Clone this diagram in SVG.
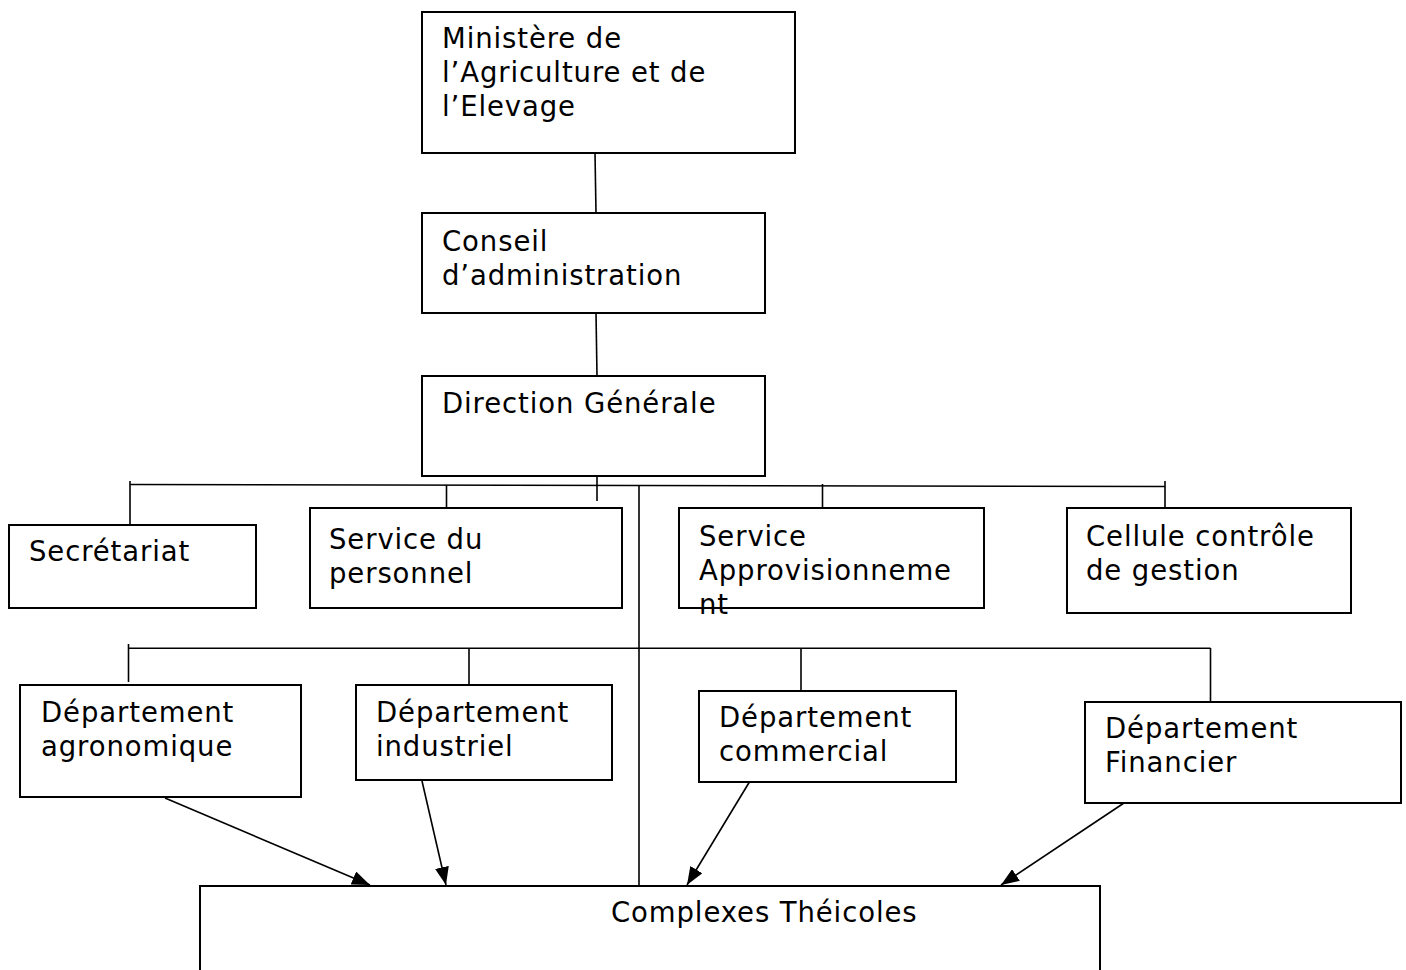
<svg xmlns="http://www.w3.org/2000/svg" width="1406" height="970" viewBox="0 0 1406 970">
  <style>
    .box { fill: #ffffff; stroke: #000000; stroke-width: 2; }
    .lbl { font-family: "DejaVu Sans", "Verdana", sans-serif; font-size: 27.5px; letter-spacing: 0.9px; fill: #000000; }
    .link { fill: none; stroke: #000000; stroke-width: 1.6; }
    .arrow { fill: none; stroke: #000000; stroke-width: 1.6; marker-end: url(#head); }
  </style>
  <defs>
    <marker id="head" viewBox="0 0 18 14" refX="18" refY="7" markerWidth="18" markerHeight="14" markerUnits="userSpaceOnUse" orient="auto">
      <path d="M0,0 L18,7 L0,14 Z" fill="#000000"/>
    </marker>
  </defs>
  <rect width="1406" height="970" fill="#ffffff"/>

  <!-- connectors -->
  <g id="connectors">
    <line class="link" x1="595" y1="153" x2="596" y2="213"/>
    <line class="link" x1="596" y1="313" x2="597" y2="376"/>
    <line class="link" x1="597" y1="476" x2="597" y2="501"/>
    <!-- upper bus: services -->
    <line class="link" x1="130" y1="484.5" x2="1165" y2="486.5"/>
    <line class="link" x1="130" y1="481" x2="130" y2="525"/>
    <line class="link" x1="446.5" y1="485" x2="446.5" y2="508"/>
    <line class="link" x1="822.5" y1="484" x2="822.5" y2="508"/>
    <line class="link" x1="1165" y1="481" x2="1165" y2="508"/>
    <!-- trunk -->
    <line class="link" x1="639" y1="485" x2="639" y2="886"/>
    <!-- lower bus: departments -->
    <line class="link" x1="128.5" y1="648.3" x2="1210.5" y2="648.3"/>
    <line class="link" x1="128.5" y1="644" x2="128.5" y2="682"/>
    <line class="link" x1="469" y1="648" x2="469" y2="685"/>
    <line class="link" x1="801" y1="648" x2="801" y2="694"/>
    <line class="link" x1="1210.5" y1="648" x2="1210.5" y2="702"/>
    <!-- departments to complexes -->
    <line class="arrow" x1="165" y1="798" x2="370" y2="885"/>
    <line class="arrow" x1="422" y1="781" x2="446" y2="885"/>
    <line class="arrow" x1="750" y1="781" x2="687" y2="885"/>
    <line class="arrow" x1="1124" y1="803" x2="1001" y2="885"/>
  </g>

  <g id="ministere">
    <rect class="box" x="422" y="12" width="373" height="141"/>
    <text class="lbl" x="442" y="48">Ministère de</text>
    <text class="lbl" x="442" y="82">l’Agriculture et de</text>
    <text class="lbl" x="442" y="116">l’Elevage</text>
  </g>

  <g id="conseil">
    <rect class="box" x="422" y="213" width="343" height="100"/>
    <text class="lbl" x="442" y="251">Conseil</text>
    <text class="lbl" x="442" y="285">d’administration</text>
  </g>

  <g id="direction">
    <rect class="box" x="422" y="376" width="343" height="100"/>
    <text class="lbl" x="442" y="413">Direction Générale</text>
  </g>

  <g id="secretariat">
    <rect class="box" x="9" y="525" width="247" height="83"/>
    <text class="lbl" x="29" y="561">Secrétariat</text>
  </g>

  <g id="service-personnel">
    <rect class="box" x="310" y="508" width="312" height="100"/>
    <text class="lbl" x="329" y="549">Service du</text>
    <text class="lbl" x="329" y="583">personnel</text>
  </g>

  <g id="service-approvisionnement">
    <rect class="box" x="679" y="508" width="305" height="100"/>
    <text class="lbl" x="699" y="546">Service</text>
    <text class="lbl" x="699" y="580">Approvisionneme</text>
    <text class="lbl" x="699" y="614">nt</text>
  </g>

  <g id="cellule-controle">
    <rect class="box" x="1067" y="508" width="284" height="105"/>
    <text class="lbl" x="1086" y="546">Cellule contrôle</text>
    <text class="lbl" x="1086" y="580">de gestion</text>
  </g>

  <g id="dep-agronomique">
    <rect class="box" x="20" y="685" width="281" height="112"/>
    <text class="lbl" x="41" y="722">Département</text>
    <text class="lbl" x="41" y="756">agronomique</text>
  </g>

  <g id="dep-industriel">
    <rect class="box" x="356" y="685" width="256" height="95"/>
    <text class="lbl" x="376" y="722">Département</text>
    <text class="lbl" x="376" y="756">industriel</text>
  </g>

  <g id="dep-commercial">
    <rect class="box" x="699" y="691" width="257" height="91"/>
    <text class="lbl" x="719" y="727">Département</text>
    <text class="lbl" x="719" y="761">commercial</text>
  </g>

  <g id="dep-financier">
    <rect class="box" x="1085" y="702" width="316" height="101"/>
    <text class="lbl" x="1105" y="738">Département</text>
    <text class="lbl" x="1105" y="772">Financier</text>
  </g>

  <g id="complexes">
    <rect class="box" x="200" y="886" width="900" height="100"/>
    <text class="lbl" x="611" y="922">Complexes Théicoles</text>
  </g>
</svg>
